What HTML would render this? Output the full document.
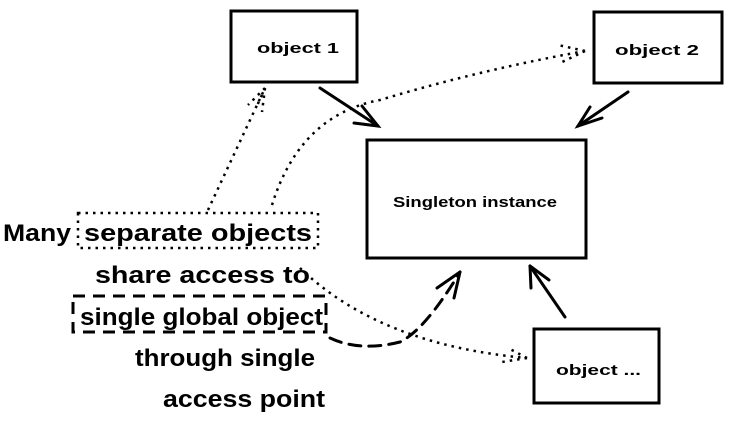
<!DOCTYPE html>
<html><head><meta charset="utf-8"><style>
html,body{margin:0;padding:0;background:#fff;width:730px;height:424px;overflow:hidden}
text{font-family:"Liberation Sans","DejaVu Sans",sans-serif;fill:#000}
</style></head><body>
<svg width="730" height="424" viewBox="0 0 730 424" xmlns="http://www.w3.org/2000/svg">
<g fill="none" stroke="#000" stroke-width="3">
<rect x="231" y="11" width="126" height="71"/>
<rect x="594" y="12" width="128" height="71"/>
<rect x="367" y="140" width="219" height="118"/>
<rect x="534" y="329" width="125" height="74"/>
</g>
<g fill="none" stroke="#000" stroke-width="3" stroke-linecap="round">
<path d="M320 88 L378 126"/><path d="M362 106 L378 126 L354 123"/>
<path d="M628 92 L578 126"/><path d="M590 107 L578 126 L602 118"/>
<path d="M565 317 L530 266"/><path d="M530 266 L531 288 M530 266 L549 280"/>
<path d="M330 338 Q360 352 400 342 Q425 330 460 272" stroke-dasharray="12 8"/>
<path d="M460 272 L437 288 M460 272 L454 298"/>
</g>
<g fill="none" stroke="#000" stroke-width="2.5" stroke-dasharray="2.5 5">
<rect x="78" y="213" width="240" height="35"/>
<path d="M208 210 L265 88"/><path d="M265 88 L248 105 M265 88 L262 112 M265 88 L256 108"/>
<path d="M272 205 Q300 115 380 100 Q480 70 585 51"/><path d="M585 51 L558 45 M585 51 L560 63"/>
<path d="M300 268 Q380 345 527 358"/><path d="M527 358 L508 348 M527 358 L502 362"/>
</g>
<rect x="73" y="296" width="253" height="36" fill="none" stroke="#000" stroke-width="3" stroke-dasharray="12 8"/>
<g font-weight="bold">
<text x="3" y="241" font-size="24" textLength="68" lengthAdjust="spacingAndGlyphs">Many</text>
<text x="84" y="241" font-size="24" textLength="228" lengthAdjust="spacingAndGlyphs">separate objects</text>
<text x="95" y="283" font-size="24" textLength="215" lengthAdjust="spacingAndGlyphs">share access to</text>
<text x="80" y="325" font-size="24" textLength="243" lengthAdjust="spacingAndGlyphs">single global object</text>
<text x="135" y="366" font-size="24" textLength="180" lengthAdjust="spacingAndGlyphs">through single</text>
<text x="163" y="407" font-size="24" textLength="162" lengthAdjust="spacingAndGlyphs">access point</text>
</g>
<g font-size="15" font-weight="bold">
<text x="257" y="53" textLength="82" lengthAdjust="spacingAndGlyphs">object 1</text>
<text x="615" y="55" textLength="84" lengthAdjust="spacingAndGlyphs">object 2</text>
<text x="393" y="207" textLength="164" lengthAdjust="spacingAndGlyphs">Singleton instance</text>
<text x="556" y="375" textLength="85" lengthAdjust="spacingAndGlyphs">object ...</text>
</g>
</svg>
</body></html>
